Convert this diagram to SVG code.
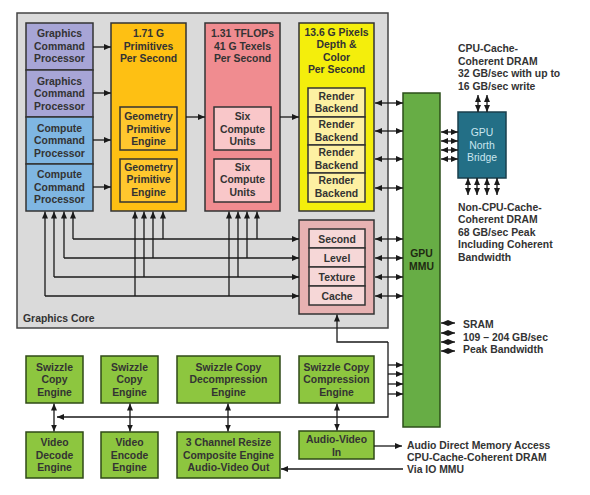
<svg xmlns="http://www.w3.org/2000/svg" width="590" height="495" viewBox="0 0 590 495">
<defs>
<marker id="ah" viewBox="0 0 7 6" refX="7" refY="3" markerWidth="7" markerHeight="6" markerUnits="userSpaceOnUse" orient="auto-start-reverse"><path d="M0,0 L7,3 L0,6 z" fill="#1a1a1a"/></marker>
<style>
text{font-family:"Liberation Sans",Arial,sans-serif;font-weight:bold;font-size:10.4px;fill:#333;text-anchor:middle}
.l{text-anchor:start}
.box{stroke:#333;stroke-width:1.5}
.gcp{fill:#a7a5d6}
.ccp{fill:#7fb6e2}
.yel{fill:#fec013}
.yin{fill:#ffc72e}
.pnk{fill:#f08c90}
.pin{fill:#f9c7c9}
.ylw{fill:#f4ee0c}
.rb{fill:#fdf0a2}
.l2o{fill:#e7b2b2}
.l2i{fill:#f6d7d7}
.grn{fill:#8dc63f;stroke:#2f4a17;stroke-width:1.5}
.con line,.con path{stroke:#1a1a1a;stroke-width:1.3;fill:none}
.a{marker-end:url(#ah)}
.d{marker-start:url(#ah);marker-end:url(#ah)}
</style>
</defs>

<g id="graphics-core">
<rect x="17" y="13" width="371" height="315" fill="#dadada" stroke="#444" stroke-width="1.5"/>
<text class="l" x="23" y="322">Graphics Core</text>
</g>

<g id="gcp1"><rect class="box gcp" x="26" y="23" width="67" height="47"/>
<text x="59.5" y="37">Graphics</text><text x="59.5" y="49.5">Command</text><text x="59.5" y="62">Processor</text></g>
<g id="gcp2"><rect class="box gcp" x="26" y="70" width="67" height="47"/>
<text x="59.5" y="84.5">Graphics</text><text x="59.5" y="97">Command</text><text x="59.5" y="109.5">Processor</text></g>
<g id="ccp1"><rect class="box ccp" x="26" y="117" width="67" height="47"/>
<text x="59.5" y="131.5">Compute</text><text x="59.5" y="144">Command</text><text x="59.5" y="156.5">Processor</text></g>
<g id="ccp2"><rect class="box ccp" x="26" y="164" width="67" height="47"/>
<text x="59.5" y="178">Compute</text><text x="59.5" y="190.5">Command</text><text x="59.5" y="203">Processor</text></g>

<g id="primitives"><rect class="box yel" x="111" y="23" width="75" height="188"/>
<text x="148.5" y="37">1.71 G</text><text x="148.5" y="49.5">Primitives</text><text x="148.5" y="62">Per Second</text></g>
<g id="gpe1"><rect class="box yin" x="120" y="107" width="57" height="43"/>
<text x="148.5" y="120">Geometry</text><text x="148.5" y="132.5">Primitive</text><text x="148.5" y="145">Engine</text></g>
<g id="gpe2"><rect class="box yin" x="120" y="159" width="57" height="43"/>
<text x="148.5" y="170.5">Geometry</text><text x="148.5" y="183">Primitive</text><text x="148.5" y="195.5">Engine</text></g>

<g id="tflops"><rect class="box pnk" x="205" y="23" width="75" height="188"/>
<text x="242.5" y="37">1.31 TFLOPs</text><text x="242.5" y="49.5">41 G Texels</text><text x="242.5" y="62">Per Second</text></g>
<g id="cu1"><rect class="box pin" x="214" y="107" width="57" height="43"/>
<text x="242.5" y="120">Six</text><text x="242.5" y="132.5">Compute</text><text x="242.5" y="145">Units</text></g>
<g id="cu2"><rect class="box pin" x="214" y="159" width="57" height="43"/>
<text x="242.5" y="170.5">Six</text><text x="242.5" y="183">Compute</text><text x="242.5" y="195.5">Units</text></g>

<g id="pixels"><rect class="box ylw" x="299" y="23" width="75" height="188"/>
<text x="336.5" y="35.5">13.6 G Pixels</text><text x="336.5" y="48">Depth &amp;</text><text x="336.5" y="60.5">Color</text><text x="336.5" y="73">Per Second</text></g>
<g id="rb1"><rect class="box rb" x="308" y="88" width="57" height="29"/><text x="336.5" y="100">Render</text><text x="336.5" y="112">Backend</text></g>
<g id="rb2"><rect class="box rb" x="308" y="117" width="57" height="28"/><text x="336.5" y="128">Render</text><text x="336.5" y="140.5">Backend</text></g>
<g id="rb3"><rect class="box rb" x="308" y="145" width="57" height="28"/><text x="336.5" y="156">Render</text><text x="336.5" y="168.5">Backend</text></g>
<g id="rb4"><rect class="box rb" x="308" y="173" width="57" height="29"/><text x="336.5" y="184">Render</text><text x="336.5" y="196.5">Backend</text></g>

<g id="l2cache"><rect class="box l2o" x="299" y="220" width="75" height="94"/>
<rect class="box l2i" x="309" y="229" width="56" height="19"/><text x="337" y="242.5">Second</text>
<rect class="box l2i" x="309" y="248" width="56" height="19"/><text x="337" y="261.5">Level</text>
<rect class="box l2i" x="309" y="267" width="56" height="19"/><text x="337" y="280.5">Texture</text>
<rect class="box l2i" x="309" y="286" width="56" height="19"/><text x="337" y="299.5">Cache</text></g>

<g id="mmu"><rect x="403" y="93" width="37" height="334" fill="#67ad45" stroke="#2c4f1a" stroke-width="1.5"/>
<text x="421.5" y="257" style="fill:#1f2a12">GPU</text><text x="421.5" y="270" style="fill:#1f2a12">MMU</text></g>

<g id="northbridge"><rect x="458" y="112" width="48" height="66" fill="#236f86" stroke="#1a3f4c" stroke-width="1.5"/>
<text x="482" y="136" style="font-weight:normal;fill:#c9e6ef">GPU</text><text x="482" y="149" style="font-weight:normal;fill:#c9e6ef">North</text><text x="482" y="161" style="font-weight:normal;fill:#c9e6ef">Bridge</text></g>

<g id="cpu-dram-label">
<text class="l" x="458" y="52">CPU-Cache-</text><text class="l" x="458" y="64.7">Coherent DRAM</text><text class="l" x="458" y="77">32 GB/sec with up to</text><text class="l" x="458" y="89.7">16 GB/sec write</text></g>
<g id="noncpu-dram-label">
<text class="l" x="458" y="210.5">Non-CPU-Cache-</text><text class="l" x="458" y="223">Coherent DRAM</text><text class="l" x="458" y="235.5">68 GB/sec Peak</text><text class="l" x="458" y="248">Including Coherent</text><text class="l" x="458" y="260.5">Bandwidth</text></g>
<g id="sram-label">
<text class="l" x="463" y="328">SRAM</text><text class="l" x="463" y="340.5">109 – 204 GB/sec</text><text class="l" x="463" y="353">Peak Bandwidth</text></g>
<g id="audio-dma-label">
<text class="l" x="407" y="449">Audio Direct Memory Access</text><text class="l" x="407" y="461">CPU-Cache-Coherent DRAM</text><text class="l" x="407" y="473">Via IO MMU</text></g>

<g id="swz1"><rect class="grn" x="26" y="356" width="57" height="47"/><text x="54.5" y="370.7">Swizzle</text><text x="54.5" y="383">Copy</text><text x="54.5" y="395.7">Engine</text></g>
<g id="swz2"><rect class="grn" x="101" y="356" width="57" height="47"/><text x="129.5" y="370.7">Swizzle</text><text x="129.5" y="383">Copy</text><text x="129.5" y="395.7">Engine</text></g>
<g id="swzdec"><rect class="grn" x="177" y="356" width="103" height="47"/><text x="228.5" y="370.7">Swizzle Copy</text><text x="228.5" y="383">Decompression</text><text x="228.5" y="395.7">Engine</text></g>
<g id="swzcomp"><rect class="grn" x="299" y="356" width="75" height="47"/><text x="336.5" y="370.7">Swizzle Copy</text><text x="336.5" y="383">Compression</text><text x="336.5" y="395.7">Engine</text></g>
<g id="vdec"><rect class="grn" x="26" y="432" width="57" height="46"/><text x="54.5" y="445.7">Video</text><text x="54.5" y="458.5">Decode</text><text x="54.5" y="471">Engine</text></g>
<g id="venc"><rect class="grn" x="101" y="432" width="57" height="46"/><text x="129.5" y="445.7">Video</text><text x="129.5" y="458.5">Encode</text><text x="129.5" y="471">Engine</text></g>
<g id="resize"><rect class="grn" x="177" y="432" width="103" height="46"/><text x="228.5" y="445.7">3 Channel Resize</text><text x="228.5" y="458.5">Composite Engine</text><text x="228.5" y="471">Audio-Video Out</text></g>
<g id="avin"><rect class="grn" x="299" y="431" width="75" height="28"/><text x="336.5" y="443">Audio-Video</text><text x="336.5" y="455.5">In</text></g>

<g id="connectors" class="con">
<line class="a" x1="93" y1="47" x2="111" y2="47"/>
<line class="a" x1="93" y1="93" x2="111" y2="93"/>
<line class="a" x1="93" y1="140" x2="111" y2="140"/>
<line class="a" x1="93" y1="187" x2="111" y2="187"/>
<line class="a" x1="186" y1="117" x2="205" y2="117"/>
<line class="a" x1="280" y1="117" x2="299" y2="117"/>
<line class="d" x1="375" y1="103" x2="403" y2="103"/>
<line class="d" x1="375" y1="131" x2="403" y2="131"/>
<line class="d" x1="375" y1="159" x2="403" y2="159"/>
<line class="d" x1="375" y1="188" x2="403" y2="188"/>
<line class="d" x1="375" y1="239" x2="403" y2="239"/>
<line class="d" x1="375" y1="258" x2="403" y2="258"/>
<line class="d" x1="375" y1="277" x2="403" y2="277"/>
<line class="d" x1="375" y1="296" x2="403" y2="296"/>
<line class="d" x1="441" y1="132" x2="458" y2="132"/>
<line class="d" x1="441" y1="141" x2="458" y2="141"/>
<line class="d" x1="441" y1="150" x2="458" y2="150"/>
<line class="d" x1="441" y1="159" x2="458" y2="159"/>
<line class="d" x1="478" y1="95" x2="478" y2="112"/>
<line class="d" x1="487" y1="95" x2="487" y2="112"/>
<line class="d" x1="468" y1="178" x2="468" y2="195"/>
<line class="d" x1="477" y1="178" x2="477" y2="195"/>
<line class="d" x1="487" y1="178" x2="487" y2="195"/>
<line class="d" x1="497" y1="178" x2="497" y2="195"/>
<line class="d" x1="441" y1="323" x2="455" y2="323"/>
<line class="d" x1="441" y1="333" x2="455" y2="333"/>
<line class="d" x1="441" y1="342" x2="455" y2="342"/>
<line class="d" x1="441" y1="351" x2="455" y2="351"/>
<path class="a" d="M73,239 V211.5"/><path class="a" d="M163,239 V211.5"/><path class="a" d="M257,239 V211.5"/>
<path class="a" d="M64,258 V211.5"/><path class="a" d="M153,258 V211.5"/><path class="a" d="M247,258 V211.5"/>
<path class="a" d="M54,277 V211.5"/><path class="a" d="M144,277 V211.5"/><path class="a" d="M238,277 V211.5"/>
<path class="a" d="M45,296 V211.5"/><path class="a" d="M135,296 V211.5"/><path class="a" d="M229,296 V211.5"/>
<path class="a" d="M73,239 H299"/>
<path class="a" d="M64,258 H299"/>
<path class="a" d="M54,277 H299"/>
<path class="a" d="M45,296 H299"/>
<path class="a" d="M388,342 H337 V314.5"/>
<path class="a" d="M388,342 V417 H57"/>
<line class="a" x1="388" y1="365" x2="403" y2="365"/>
<line class="a" x1="388" y1="374" x2="403" y2="374"/>
<line class="a" x1="388" y1="384" x2="403" y2="384"/>
<line class="a" x1="388" y1="394" x2="403" y2="394"/>
<line class="d" x1="54" y1="403.5" x2="54" y2="431.5"/>
<line class="d" x1="130" y1="403.5" x2="130" y2="431.5"/>
<line class="d" x1="228" y1="403.5" x2="228" y2="431.5"/>
<line class="d" x1="337" y1="403.5" x2="337" y2="430.5"/>
<line class="a" x1="374" y1="446" x2="402" y2="446"/>
<line class="a" x1="403" y1="469" x2="281" y2="469"/>
</g>
</svg>
